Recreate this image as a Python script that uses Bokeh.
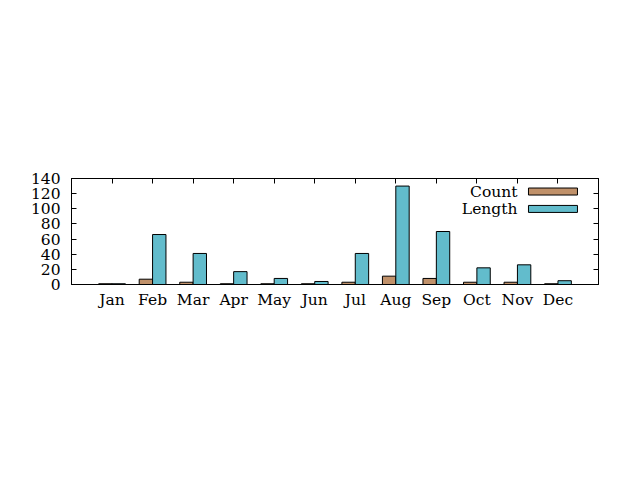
from bokeh.plotting import figure
from bokeh.models import Range1d, FixedTicker, LinearAxis
from bokeh.core.properties import value
from bokeh.embed import file_html
from bokeh.resources import INLINE

months = ["Jan", "Feb", "Mar", "Apr", "May", "Jun", "Jul", "Aug", "Sep", "Oct", "Nov", "Dec"]
count = [1, 7, 3, 1, 1, 1, 3, 11, 8, 3, 3, 1]
length = [1, 66, 41, 17, 8, 4, 41, 130, 70, 22, 26, 5]
y_ticks = [0, 20, 40, 60, 80, 100, 120, 140]
series_names = ["Count", "Length"]
colors = ["#c0916a", "#62bccc"]

FONT = "DejaVu Serif"
FS = "15.5px"

p = figure(width=640, height=480, output_backend="svg", toolbar_location=None,
           x_range=Range1d(-1, 12), y_range=Range1d(0, 140),
           min_border_left=71, min_border_right=42, min_border_top=178, min_border_bottom=196)
p.xgrid.visible = False
p.ygrid.visible = False
p.outline_line_color = "black"
p.outline_line_width = 1
p.background_fill_color = "white"
p.border_fill_color = "white"

idx = list(range(len(months)))
bw = 0.33
p.vbar(x=[i - bw / 2 for i in idx], top=count, bottom=0, width=bw,
       fill_color=colors[0], line_color="black", line_width=1)
p.vbar(x=[i + bw / 2 for i in idx], top=length, bottom=0, width=bw,
       fill_color=colors[1], line_color="black", line_width=1)

# bottom axis
xa = p.xaxis[0]
xa.ticker = FixedTicker(ticks=idx)
xa.major_label_overrides = {i: m for i, m in enumerate(months)}
xa.major_tick_in = 0
xa.major_tick_out = 0
xa.minor_tick_line_color = None
xa.axis_line_color = "black"
xa.major_label_text_font = FONT
xa.major_label_text_font_size = FS
xa.major_label_text_color = "black"
xa.major_label_standoff = 6

# left axis
ya = p.yaxis[0]
ya.ticker = FixedTicker(ticks=y_ticks)
ya.major_tick_in = 5
ya.major_tick_out = 0
ya.minor_tick_line_color = None
ya.axis_line_color = "black"
ya.major_label_text_font = FONT
ya.major_label_text_font_size = FS
ya.major_label_text_color = "black"
ya.major_label_standoff = 11

# mirror axes (ticks only)
top = LinearAxis(ticker=FixedTicker(ticks=idx), major_tick_in=5, major_tick_out=0,
                 minor_tick_line_color=None,
                 major_label_overrides={i: "" for i in idx},
                 major_label_standoff=0, axis_line_color="black")
p.add_layout(top, "above")
right = LinearAxis(ticker=FixedTicker(ticks=y_ticks), major_tick_in=5, major_tick_out=0,
                   minor_tick_line_color=None,
                   major_label_overrides={t: "" for t in y_ticks},
                   major_label_standoff=0, axis_line_color="black")
p.add_layout(right, "right")

# legend (gnuplot style: label then swatch)
leg_y = [122.8, 99.8]
p.text(x=[10.0, 10.0], y=leg_y, text=series_names, text_align="right", text_baseline="middle",
       text_font=value(FONT), text_font_size=FS, text_color="black")
p.rect(x=[10.877, 10.877], y=leg_y, width=49, height=7, width_units="screen", height_units="screen",
       fill_color=colors, line_color="black", line_width=1)

open("out.html", "w").write(file_html(p, INLINE))
